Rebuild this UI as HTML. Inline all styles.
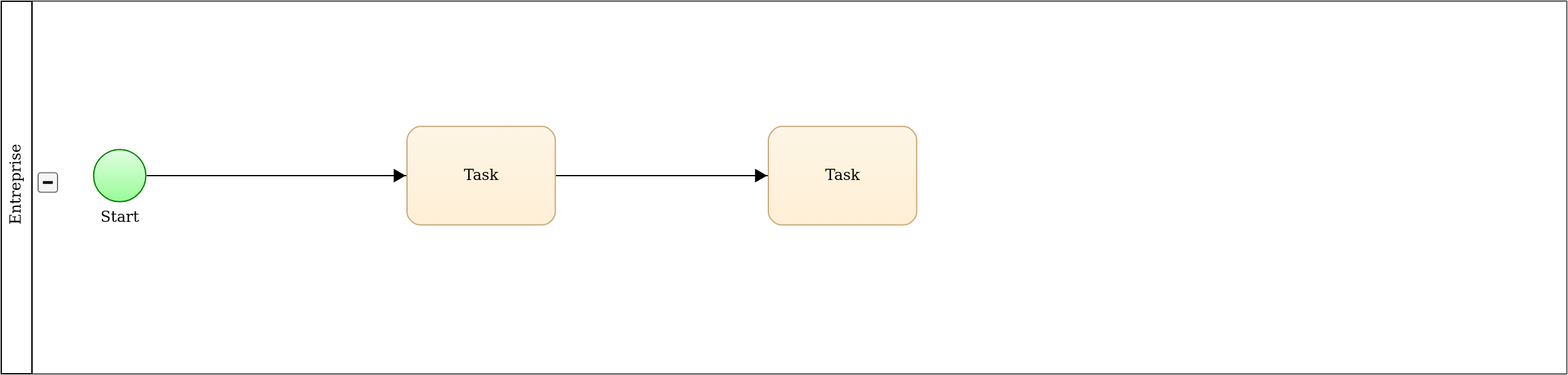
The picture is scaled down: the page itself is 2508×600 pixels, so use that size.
<!DOCTYPE html>
<html lang="fr">
<head>
<meta charset="utf-8">
<title>Entreprise</title>
<style>
html,body{margin:0;padding:0;background:#fff;overflow:hidden;}
body{width:2508px;height:600px;position:relative;}
svg{display:block;position:absolute;left:0;top:0;will-change:transform;}
text{font-family:"DejaVu Serif","Liberation Serif",serif;font-size:24px;fill:#000;}
</style>
</head>
<body>
<svg width="2508" height="600" viewBox="0 0 2508 600">
  <defs>
    <linearGradient id="gStart" x1="0" y1="0" x2="0" y2="1">
      <stop offset="0" stop-color="#e0ffe0"/>
      <stop offset="1" stop-color="#98fb98"/>
    </linearGradient>
    <linearGradient id="gTask" x1="0" y1="0" x2="0" y2="1">
      <stop offset="0" stop-color="#fdf5e6"/>
      <stop offset="1" stop-color="#ffefd5"/>
    </linearGradient>
  </defs>
  <rect x="0" y="0" width="2508" height="600" fill="#ffffff"/>
  <!-- pool -->
  <g id="pool" shape-rendering="crispEdges" stroke="none">
    <rect x="1" y="1" width="2" height="598" fill="#000"/>
    <rect x="50" y="1" width="2" height="598" fill="#000"/>
    <rect x="1" y="1" width="51" height="2" fill="#000"/>
    <rect x="1" y="597" width="51" height="2" fill="#000"/>
    <rect x="52" y="2" width="1" height="596" fill="#aaaaaa"/>
    <rect x="52" y="2" width="2453" height="1" fill="#aaaaaa"/>
    <rect x="52" y="597" width="2453" height="1" fill="#aaaaaa"/>
    <rect x="2505" y="3" width="1" height="594" fill="#888888"/>
    <rect x="2505" y="2" width="1" height="1" fill="#c4c4c4"/>
    <rect x="2505" y="597" width="1" height="1" fill="#c4c4c4"/>
    <rect x="52" y="1" width="2455" height="1" fill="#000"/>
    <rect x="52" y="598" width="2455" height="1" fill="#000"/>
    <rect x="2506" y="1" width="1" height="598" fill="#363636"/>
  </g>
  <text id="poolLabel" transform="translate(33.3 294.7) rotate(-90)" text-anchor="middle">Entreprise</text>
  <!-- collapse button -->
  <g id="collapse">
    <rect x="61" y="276.4" width="31" height="31" rx="4.2" ry="4.2" fill="#f5f5f5" stroke="#747474" stroke-width="2"/>
    <rect x="62.5" y="277.9" width="28" height="28" rx="3" ry="3" fill="none" stroke="#ffffff" stroke-width="1" stroke-opacity="0.7"/>
    <rect x="67.5" y="288.7" width="18" height="6.6" fill="#ffffff" fill-opacity="0.85"/>
    <rect x="68.5" y="289.7" width="16" height="4.6" fill="#0a0a0a"/>
  </g>
  <!-- flows -->
  <g id="flows" fill="#000" stroke="none">
    <path d="M234.5 281H650.2" fill="none" stroke="#000" stroke-width="2"/>
    <path d="M648.9 281L629.7 269.9V292.1Z"/>
    <path d="M889.2 281H1228.2" fill="none" stroke="#000" stroke-width="2"/>
    <path d="M1226.9 281L1207.7 269.9V292.1Z"/>
  </g>
  <!-- start event -->
  <ellipse cx="191.52" cy="281.01" rx="41.77" ry="41.77" fill="url(#gStart)" stroke="#008000" stroke-width="2"/>
  <text x="191.6" y="354.5" text-anchor="middle">Start</text>
  <!-- tasks -->
  <path id="task651" d="M671.3 202.25H867.9C877.24 202.25 888.2 213.7 888.2 223.45V339.7C888.2 349.1 877.6 359.7 868.2 359.7H671C661.8 359.7 651 348.9 651 339.7V224.25C651 214.13 661.96 202.25 671.3 202.25Z" fill="url(#gTask)" stroke="#ccaa7c" stroke-width="2"/>
  <text x="769.65" y="288" text-anchor="middle">Task</text>
  <path id="task1229" d="M1249.3 202.25H1445.9C1455.24 202.25 1466.2 213.7 1466.2 223.45V339.7C1466.2 349.1 1455.6 359.7 1446.2 359.7H1249C1239.8 359.7 1229 348.9 1229 339.7V224.25C1229 214.13 1239.96 202.25 1249.3 202.25Z" fill="url(#gTask)" stroke="#ccaa7c" stroke-width="2"/>
  <text x="1347.65" y="288" text-anchor="middle">Task</text>
</svg>
</body>
</html>
